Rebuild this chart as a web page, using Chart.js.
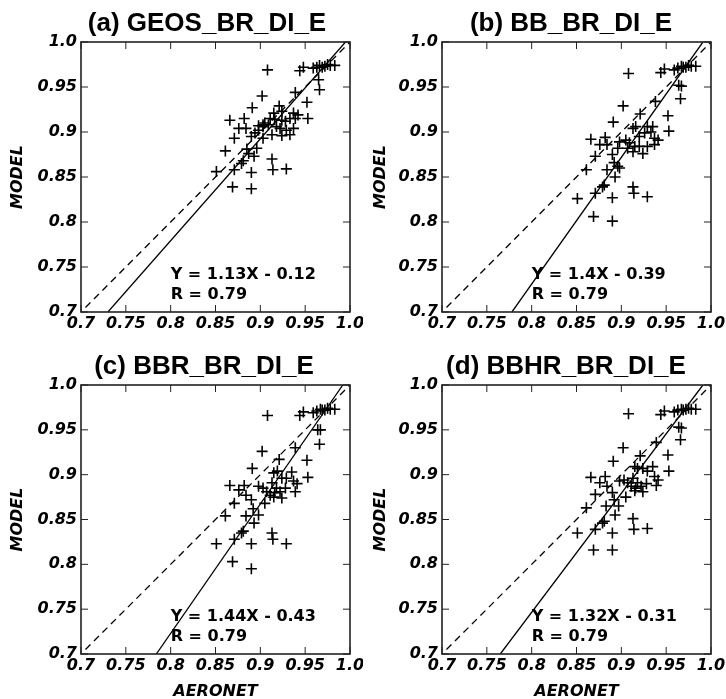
<!DOCTYPE html>
<html>
<head>
<meta charset="utf-8">
<script src="https://cdn.jsdelivr.net/npm/chart.js@4/dist/chart.umd.min.js"></script>
<style>
  body { margin: 0; background: #fff; width: 726px; height: 699px; position: relative; overflow: hidden; }
  canvas { position: absolute; }
</style>
</head>
<body>
<canvas id="pa" width="363" height="340" style="left:0;top:0"></canvas>
<canvas id="pb" width="363" height="340" style="left:363px;top:0"></canvas>
<canvas id="pc" width="363" height="359" style="left:0;top:340px"></canvas>
<canvas id="pd" width="363" height="359" style="left:363px;top:340px"></canvas>
<script>
// panel text
const panelTitles = ["(a) GEOS_BR_DI_E", "(b) BB_BR_DI_E", "(c) BBR_BR_DI_E", "(d) BBHR_BR_DI_E"];
const fitLabels = ["Y = 1.13X - 0.12", "Y = 1.4X - 0.39", "Y = 1.44X - 0.43", "Y = 1.32X - 0.31"];
const rLabels = ["R = 0.79", "R = 0.79", "R = 0.79", "R = 0.79"];

// 1:1 reference line
const oneToOne = [0.705, 1.0];

// regression line end points
const geosFitX = [0.730, 0.995], geosFitY = [0.70, 1.0];
const bbFitX = [0.778, 0.991], bbFitY = [0.70, 1.0];
const bbrFitX = [0.784, 0.992], bbrFitY = [0.70, 1.0];
const bbhrFitX = [0.765, 0.991], bbhrFitY = [0.70, 1.0];

// (a) GEOS_BR_DI_E
const geosX = [0.908, 0.944, 0.948, 0.959, 0.963, 0.966, 0.969, 0.972, 0.975, 0.978, 0.983, 0.965, 0.966, 0.939, 0.902, 0.952, 0.921, 0.891, 0.953,
  0.866, 0.882, 0.876, 0.884, 0.871, 0.890, 0.861, 0.885, 0.896, 0.887, 0.893, 0.879, 0.881, 0.871, 0.851, 0.890, 0.913, 0.914, 0.929, 0.869, 0.890,
  0.898, 0.903, 0.911, 0.916, 0.924, 0.928, 0.933, 0.937, 0.942, 0.915, 0.924, 0.905, 0.909, 0.903, 0.918, 0.922, 0.929, 0.937, 0.898, 0.913, 0.924, 0.933, 0.903, 0.894, 0.939];
const geosY = [0.969, 0.968, 0.972, 0.971, 0.972, 0.974, 0.972, 0.973, 0.975, 0.974, 0.974, 0.958, 0.947, 0.944, 0.940, 0.933, 0.929, 0.927, 0.915,
  0.913, 0.915, 0.904, 0.904, 0.893, 0.895, 0.879, 0.881, 0.882, 0.876, 0.873, 0.865, 0.868, 0.858, 0.856, 0.855, 0.870, 0.858, 0.859, 0.839, 0.837,
  0.907, 0.908, 0.915, 0.914, 0.913, 0.912, 0.915, 0.921, 0.919, 0.921, 0.923, 0.910, 0.908, 0.906, 0.906, 0.904, 0.902, 0.904, 0.902, 0.897, 0.896, 0.897, 0.893, 0.899, 0.915];

// (b) BB_BR_DI_E
const bbX = [0.908, 0.944, 0.948, 0.959, 0.963, 0.967, 0.969, 0.972, 0.975, 0.978, 0.983, 0.964, 0.967, 0.966, 0.938, 0.902, 0.952, 0.953, 0.891, 0.921,
  0.866, 0.882, 0.876, 0.884, 0.871, 0.890, 0.861, 0.884, 0.893, 0.898, 0.879, 0.881, 0.871, 0.851, 0.890, 0.913, 0.914, 0.929, 0.869, 0.890, 0.892,
  0.913, 0.916, 0.929, 0.935, 0.926, 0.933, 0.937, 0.941, 0.920, 0.905, 0.898, 0.909, 0.915, 0.920, 0.929, 0.937, 0.913, 0.924, 0.907, 0.896, 0.896];
const bbY = [0.965, 0.966, 0.970, 0.969, 0.971, 0.973, 0.972, 0.972, 0.974, 0.973, 0.973, 0.952, 0.951, 0.937, 0.934, 0.929, 0.918, 0.901, 0.911, 0.920,
  0.892, 0.894, 0.886, 0.886, 0.873, 0.875, 0.858, 0.858, 0.850, 0.860, 0.839, 0.841, 0.832, 0.826, 0.827, 0.839, 0.832, 0.828, 0.806, 0.801, 0.866,
  0.904, 0.906, 0.906, 0.906, 0.899, 0.900, 0.893, 0.891, 0.895, 0.891, 0.889, 0.888, 0.884, 0.884, 0.884, 0.886, 0.878, 0.876, 0.882, 0.882, 0.862];

// (c) BBR_BR_DI_E
const bbrX = [0.908, 0.944, 0.948, 0.959, 0.963, 0.967, 0.969, 0.972, 0.975, 0.978, 0.983, 0.964, 0.967, 0.966, 0.939, 0.902, 0.921, 0.952, 0.953, 0.891,
  0.866, 0.882, 0.876, 0.884, 0.871, 0.890, 0.861, 0.884, 0.893, 0.898, 0.879, 0.881, 0.871, 0.851, 0.890, 0.913, 0.914, 0.929, 0.869, 0.890, 0.892,
  0.915, 0.919, 0.924, 0.929, 0.935, 0.937, 0.941, 0.939, 0.898, 0.903, 0.907, 0.911, 0.915, 0.918, 0.922, 0.924, 0.916, 0.905, 0.928, 0.913];
const bbrY = [0.966, 0.966, 0.970, 0.969, 0.971, 0.973, 0.972, 0.972, 0.974, 0.973, 0.973, 0.950, 0.950, 0.934, 0.930, 0.926, 0.917, 0.916, 0.897, 0.907,
  0.888, 0.888, 0.883, 0.877, 0.868, 0.872, 0.854, 0.854, 0.846, 0.855, 0.835, 0.837, 0.828, 0.823, 0.823, 0.835, 0.828, 0.823, 0.803, 0.795, 0.862,
  0.902, 0.904, 0.896, 0.896, 0.903, 0.893, 0.890, 0.881, 0.887, 0.885, 0.881, 0.877, 0.875, 0.885, 0.881, 0.874, 0.880, 0.868, 0.885, 0.891];

// (d) BBHR_BR_DI_E
const bbhrX = [0.908, 0.944, 0.948, 0.959, 0.963, 0.967, 0.969, 0.972, 0.975, 0.978, 0.983, 0.964, 0.967, 0.966, 0.939, 0.902, 0.921, 0.952, 0.953, 0.891,
  0.866, 0.882, 0.876, 0.884, 0.871, 0.890, 0.861, 0.883, 0.893, 0.897, 0.879, 0.881, 0.871, 0.851, 0.890, 0.913, 0.914, 0.929, 0.869, 0.890, 0.892,
  0.915, 0.918, 0.924, 0.929, 0.935, 0.937, 0.941, 0.939, 0.898, 0.903, 0.907, 0.911, 0.915, 0.918, 0.922, 0.924, 0.916, 0.905, 0.928, 0.913];
const bbhrY = [0.968, 0.967, 0.971, 0.970, 0.972, 0.973, 0.972, 0.973, 0.974, 0.973, 0.973, 0.953, 0.952, 0.939, 0.936, 0.930, 0.921, 0.922, 0.904, 0.915,
  0.897, 0.898, 0.891, 0.887, 0.878, 0.880, 0.863, 0.865, 0.855, 0.865, 0.846, 0.848, 0.839, 0.835, 0.835, 0.851, 0.839, 0.840, 0.816, 0.816, 0.872,
  0.909, 0.907, 0.907, 0.904, 0.909, 0.898, 0.894, 0.888, 0.893, 0.894, 0.891, 0.887, 0.882, 0.891, 0.887, 0.881, 0.885, 0.875, 0.890, 0.896];

const pts = (xs, ys) => xs.map((x, i) => ({ x: x, y: ys[i] }));

const tickFont = { family: "DejaVu Sans", size: 16, weight: "bold", style: "italic" };

// frame, inward ticks, panel title and fit text
const panelDecor = {
  id: "panelDecor",
  afterDraw(chart, args, opts) {
    const { ctx, chartArea: a, scales } = chart;
    const sx = scales.x, sy = scales.y;
    ctx.save();
    ctx.strokeStyle = "#222";
    ctx.lineWidth = 1;
    ctx.beginPath();
    sx.ticks.forEach((t) => {
      const p = sx.getPixelForValue(t.value);
      ctx.moveTo(p, a.bottom); ctx.lineTo(p, a.bottom - 7);
      ctx.moveTo(p, a.top); ctx.lineTo(p, a.top + 7);
    });
    sy.ticks.forEach((t) => {
      const p = sy.getPixelForValue(t.value);
      ctx.moveTo(a.left, p); ctx.lineTo(a.left + 7, p);
      ctx.moveTo(a.right, p); ctx.lineTo(a.right - 7, p);
    });
    ctx.stroke();
    ctx.lineWidth = 1.6;
    ctx.strokeRect(a.left, a.top, a.right - a.left, a.bottom - a.top);

    ctx.fillStyle = "#000";
    ctx.textBaseline = "middle";
    ctx.textAlign = "center";
    ctx.font = "bold 26px 'Liberation Sans', Arial, sans-serif";
    ctx.fillText(opts.title, opts.titleX, opts.titleY);

    ctx.textAlign = "left";
    ctx.font = "bold 16px 'DejaVu Sans'";
    const tx = sx.getPixelForValue(0.8);
    ctx.fillText(opts.fit, tx, sy.getPixelForValue(0.741));
    ctx.fillText(opts.r, tx, sy.getPixelForValue(0.719));
    ctx.restore();
  },
};

function makePanel(id, i, xs, ys, fitX, fitY, layout) {
  new Chart(document.getElementById(id), {
    type: "scatter",
    data: {
      datasets: [
        {
          data: pts(xs, ys),
          pointStyle: "cross",
          pointRadius: 5.5,
          pointBorderWidth: 1.6,
          borderColor: "#000",
          backgroundColor: "#000",
          showLine: false,
        },
        {
          data: pts(fitX, fitY),
          showLine: true,
          pointRadius: 0,
          borderColor: "#000",
          borderWidth: 1.3,
        },
        {
          data: pts(oneToOne, oneToOne),
          showLine: true,
          pointRadius: 0,
          borderColor: "#000",
          borderWidth: 1.3,
          borderDash: [7, 5],
        },
      ],
    },
    options: {
      responsive: false,
      animation: false,
      events: [],
      layout: { padding: { left: 0, top: layout.top, right: layout.right, bottom: 0 } },
      plugins: {
        legend: { display: false },
        tooltip: { enabled: false },
        panelDecor: { title: panelTitles[i], fit: fitLabels[i], r: rLabels[i], titleX: layout.titleX, titleY: layout.titleY },
      },
      scales: {
        x: {
          type: "linear",
          min: 0.7,
          max: 1.0,
          grid: { display: false, drawTicks: false },
          border: { display: false },
          ticks: {
            stepSize: 0.05,
            autoSkip: false,
            maxRotation: 0,
            padding: 2,
            color: "#000",
            font: tickFont,
            callback: (v) => (Math.abs(v - 1) < 1e-9 ? "1.0" : String(+v.toFixed(2))),
          },
          title: {
            display: layout.xTitle,
            text: "AERONET",
            color: "#000",
            font: { family: "DejaVu Sans", size: 16, weight: "bold", style: "italic", lineHeight: 0.9 },
            padding: { top: 0, bottom: 0 },
          },
          afterFit: (s) => { s.height = layout.xh; s.paddingLeft = 0; s.paddingRight = 0; },
        },
        y: {
          type: "linear",
          min: 0.7,
          max: 1.0,
          grid: { display: false, drawTicks: false },
          border: { display: false },
          ticks: {
            stepSize: 0.05,
            autoSkip: false,
            padding: 4,
            color: "#000",
            font: tickFont,
            callback: (v) => (Math.abs(v - 1) < 1e-9 ? "1.0" : String(+v.toFixed(2))),
          },
          title: {
            display: true,
            text: "MODEL",
            color: "#000",
            font: { family: "DejaVu Sans", size: 16, weight: "bold", style: "italic", lineHeight: 1.2 },
            padding: { top: 8.4, bottom: 0 },
          },
          afterFit: (s) => { s.width = layout.yw; s.paddingTop = 0; s.paddingBottom = 0; },
        },
      },
    },
    plugins: [panelDecor],
  });
}

makePanel("pa", 0, geosX, geosY, geosFitX, geosFitY, { top: 42, right: 13, xh: 28, yw: 81, xTitle: false, titleX: 207, titleY: 24 });
makePanel("pb", 1, bbX, bbY, bbFitX, bbFitY, { top: 42, right: 15, xh: 28, yw: 79, xTitle: false, titleX: 208, titleY: 24 });
makePanel("pc", 2, bbrX, bbrY, bbrFitX, bbrFitY, { top: 45, right: 13, xh: 45, yw: 81, xTitle: true, titleX: 204, titleY: 27 });
makePanel("pd", 3, bbhrX, bbhrY, bbhrFitX, bbhrFitY, { top: 45, right: 15, xh: 45, yw: 79, xTitle: true, titleX: 203, titleY: 27 });
</script>
</body>
</html>
